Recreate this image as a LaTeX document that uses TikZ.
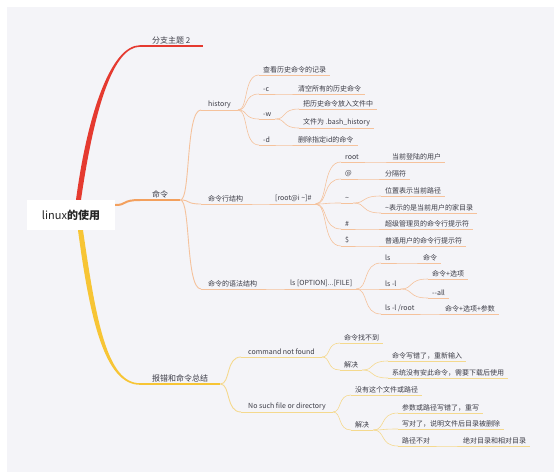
\documentclass[tikz,border=0pt]{standalone}
\usepackage{fontspec}
\setmainfont{Noto Sans CJK SC}
\usetikzlibrary{positioning, calc}
\definecolor{bgc}{HTML}{F4F4F8}
\definecolor{redb}{HTML}{E53A30}
\definecolor{orab}{HTML}{F3A05E}
\definecolor{oral}{HTML}{F5C29C}
\definecolor{yelb}{HTML}{F7C535}
\definecolor{yell}{HTML}{F4D98E}
\definecolor{txt}{HTML}{3C3C46}

\begin{document}
\begin{tikzpicture}[x=1pt,y=-1pt,
    every node/.style={text=txt,inner ysep=2pt},
    topic/.style={anchor=south west,inner xsep=4pt,font=\fontsize{7}{8}\selectfont},
    sub/.style={topic,inner xsep=7pt},
    main/.style={topic,inner xsep=12pt,font=\fontsize{8}{9}\selectfont},
    root/.style={fill=white,minimum width=88pt,minimum height=30pt,text=black!85,
      font=\fontsize{11}{13}\selectfont},
    ul/.style={append after command={(\tikzlastnode.south west) edge[#1] (\tikzlastnode.south east)}},
    rl/.style={draw=redb,line width=1.5pt},
    ol1/.style={draw=orab,line width=1.5pt},
    ol2/.style={draw=oral,line width=.9pt},
    ol3/.style={draw=oral,line width=.6pt},
    yl1/.style={draw=yelb,line width=1.5pt},
    yl2/.style={draw=yell,line width=.9pt},
    yl3/.style={draw=yell,line width=.6pt},
    br/.style={to path={.. controls ($(\tikztostart)!.5!(\tikztostart -| \tikztotarget)$)
      and ($(\tikztostart |- \tikztotarget)!.25!(\tikztotarget)$) .. (\tikztotarget)}}]
  \useasboundingbox (0,0) rectangle (554,472);
  \fill[white] (0,0) rectangle (554,472);
  \fill[bgc] (7,7) rectangle (554,472);

  \node[root] (root) at (71,215) {linux{\bfseries 的使用}};

  % main topics
  \node[main,ul=rl] (t2) at (140,46) {分支主题 2};
  \node[main,ul=ol1] (cmd) at (140,200) {命令};
  \node[main,ul=yl1] (err) at (140,384) {报错和命令总结};

  \fill[redb] ($(root.north)+(5,0)$) .. controls +(12,-90) and +(-28,0) .. ($(t2.south west)+(0,-.8)$)
    -- ($(t2.south west)+(0,.8)$) .. controls +(-27,0) and +(13,-90) .. ($(root.north)+(10,0)$) -- cycle;
  \fill[yelb] ($(root.south)+(7,0)$) .. controls +(12,90) and +(-35,0) .. ($(err.south west)+(0,.8)$)
    -- ($(err.south west)+(0,-.8)$) .. controls +(-33,0) and +(13,90) .. ($(root.south)+(12,0)$) -- cycle;
  \draw[orab,line width=2pt] ($(root.east)+(0,-10)$) to[br] (cmd.south west);

  % history
  \node[sub,ul=ol2] (hist) at (201,110) {history};
  \node[topic,ul=ol3] (h1) at (259,75) {查看历史命令的记录};
  \node[topic,ul=ol3] (h2) at (259,94) {-c};
  \node[topic,ul=ol3] (h3) at (259,119) {-w};
  \node[topic,ul=ol3] (h4) at (259,145) {-d};
  \node[topic,ul=ol3] (h2a) at (294,94) {清空所有的历史命令};
  \node[topic,ul=ol3] (h3a) at (299,109) {把历史命令放入文件中};
  \node[topic,ul=ol3] (h3b) at (299,128) {文件为 .bash\_history};
  \node[topic,ul=ol3] (h4a) at (294,145) {删除指定id的命令};

  % prompt
  \node[sub,ul=ol2] (struct) at (201,204) {命令行结构};
  \node[topic,ul=ol3] (prompt) at (271,204) {[root@i \textasciitilde]\#};
  \node[topic,ul=ol3] (p1) at (341,162) {root};
  \node[topic,ul=ol3] (p2) at (341,179) {@};
  \node[topic,ul=ol3] (p3) at (341,203) {\textasciitilde};
  \node[topic,ul=ol3] (p4) at (341,229) {\#};
  \node[topic,ul=ol3] (p5) at (341,246) {\$};
  \node[topic,ul=ol3] (p1a) at (388,162) {当前登陆的用户};
  \node[topic,ul=ol3] (p2a) at (381,179) {分隔符};
  \node[topic,ul=ol3] (p3a) at (381,196) {位置表示当前路径};
  \node[topic,ul=ol3] (p3b) at (381,213) {\textasciitilde 表示的是当前用户的家目录};
  \node[topic,ul=ol3] (p4a) at (381,229) {超级管理员的命令行提示符};
  \node[topic,ul=ol3] (p5a) at (381,246) {普通用户的命令行提示符};

  % syntax
  \node[sub,ul=ol2] (syntax) at (201,289) {命令的语法结构};
  \node[topic,ul=ol3] (lsopt) at (286,289) {ls [OPTION]...[FILE]};
  \node[topic,ul=ol3] (s1) at (381,263) {ls};
  \node[topic,ul=ol3] (s2) at (381,289) {ls -l};
  \node[topic,ul=ol3] (s3) at (381,314) {ls -l /root};
  \node[topic,ul=ol3] (s1a) at (419,263) {命令};
  \node[topic,ul=ol3] (s2a) at (428,279) {命令+选项};
  \node[topic,ul=ol3] (s2b) at (428,298) {-{}-all};
  \node[topic,ul=ol3] (s3a) at (441,314) {命令+选项+参数};

  % errors
  \node[sub,ul=yl2] (nf) at (241,357) {command not found};
  \node[sub,ul=yl2] (ns) at (241,412) {No such file or directory};
  \node[topic,ul=yl3] (nf1) at (340,343) {命令找不到};
  \node[topic,ul=yl3] (nf2) at (340,370) {解决};
  \node[topic,ul=yl3] (nf2a) at (388,361) {命令写错了，重新输入};
  \node[topic,ul=yl3] (nf2b) at (388,378) {系统没有安此命令，需要下载后使用};
  \node[topic,ul=yl3] (ns1) at (351,395) {没有这个文件或路径};
  \node[topic,ul=yl3] (ns2) at (351,430) {解决};
  \node[topic,ul=yl3] (ns2a) at (398,413) {参数或路径写错了，重写};
  \node[topic,ul=yl3] (ns2b) at (398,429) {写对了，说明文件后目录被删除};
  \node[topic,ul=yl3] (ns2c) at (398,446) {路径不对};
  \node[topic,ul=yl3] (ns2c1) at (459,446) {绝对目录和相对目录};

  \foreach \a/\b in {cmd/hist,cmd/struct,cmd/syntax}
    \draw[ol2] (\a.south east) to[br] (\b.south west);
  \foreach \a/\b in {hist/h1,hist/h2,hist/h3,hist/h4,h2/h2a,h3/h3a,h3/h3b,h4/h4a,
      struct/prompt,prompt/p1,prompt/p2,prompt/p3,prompt/p4,prompt/p5,
      p1/p1a,p2/p2a,p3/p3a,p3/p3b,p4/p4a,p5/p5a,
      syntax/lsopt,lsopt/s1,lsopt/s2,lsopt/s3,s1/s1a,s2/s2a,s2/s2b,s3/s3a}
    \draw[ol3] (\a.south east) to[br] (\b.south west);
  \foreach \a/\b in {err/nf,err/ns}
    \draw[yl2] (\a.south east) to[br] (\b.south west);
  \foreach \a/\b in {nf/nf1,nf/nf2,nf2/nf2a,nf2/nf2b,ns/ns1,ns/ns2,ns2/ns2a,ns2/ns2b,ns2/ns2c,ns2c/ns2c1}
    \draw[yl3] (\a.south east) to[br] (\b.south west);
\end{tikzpicture}
\end{document}
